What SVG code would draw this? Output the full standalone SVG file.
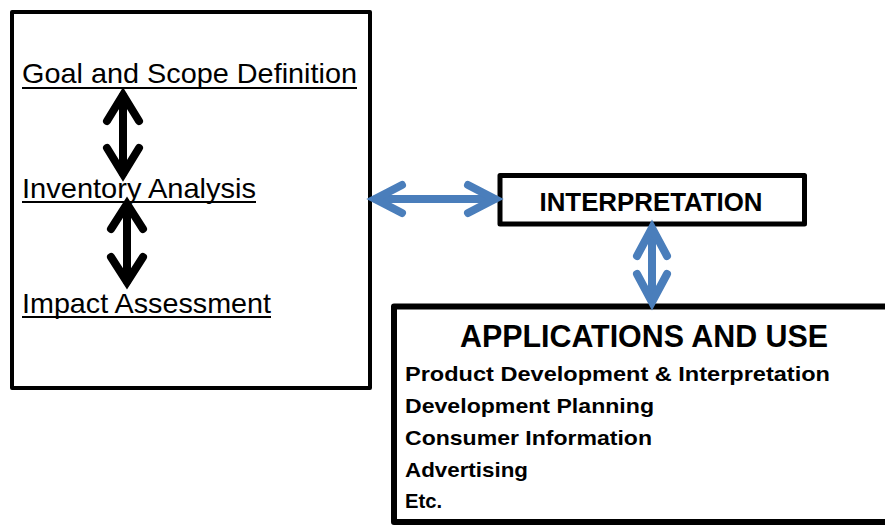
<svg xmlns="http://www.w3.org/2000/svg" width="885" height="525" viewBox="0 0 885 525">
<style>
.box{fill:#fff;stroke:#000;stroke-linejoin:round}
.lbl{font-family:"Liberation Sans",Arial,sans-serif;font-size:28px;fill:#000}
.b{font-family:"Liberation Sans",Arial,sans-serif;font-weight:bold;fill:#000}
.ul{stroke:#000;stroke-width:2}
.ka{fill:none;stroke:#000;stroke-width:8;stroke-linecap:round;stroke-linejoin:miter}
.ba{fill:none;stroke:#4a7ebb;stroke-width:8;stroke-linecap:round;stroke-linejoin:miter}
</style>
<rect width="885" height="525" fill="#fff"/>
<g id="lca-box">
<rect class="box" x="12" y="12" width="358" height="376" stroke-width="4"/>
</g>
<g id="goal">
<text class="lbl" x="22" y="83" textLength="335" lengthAdjust="spacingAndGlyphs">Goal and Scope Definition</text>
<line class="ul" x1="22" y1="88" x2="357" y2="88"/>
</g>
<g id="inventory">
<text class="lbl" x="22" y="198" textLength="234" lengthAdjust="spacingAndGlyphs">Inventory Analysis</text>
<line class="ul" x1="22" y1="202" x2="256" y2="202"/>
</g>
<g id="impact">
<text class="lbl" x="22" y="313" textLength="249" lengthAdjust="spacingAndGlyphs">Impact Assessment</text>
<line class="ul" x1="22" y1="317" x2="271" y2="317"/>
</g>
<g id="interpretation">
<rect class="box" x="500" y="175.5" width="304.5" height="48.5" stroke-width="5"/>
<text class="b" x="651" y="211" font-size="26" text-anchor="middle" textLength="223" lengthAdjust="spacingAndGlyphs">INTERPRETATION</text>
</g>
<g id="applications">
<rect class="box" x="394" y="306.5" width="500" height="215.5" stroke-width="6"/>
<text class="b" x="644" y="347" font-size="31" text-anchor="middle" textLength="368" lengthAdjust="spacingAndGlyphs">APPLICATIONS AND USE</text>
<text class="b" x="405" y="381" font-size="21" textLength="425" lengthAdjust="spacingAndGlyphs">Product Development &amp; Interpretation</text>
<text class="b" x="405" y="413" font-size="21" textLength="249" lengthAdjust="spacingAndGlyphs">Development Planning</text>
<text class="b" x="405" y="445" font-size="21" textLength="247" lengthAdjust="spacingAndGlyphs">Consumer Information</text>
<text class="b" x="405" y="477" font-size="21" textLength="123" lengthAdjust="spacingAndGlyphs">Advertising</text>
<text class="b" x="405" y="508" font-size="21" textLength="37" lengthAdjust="spacingAndGlyphs">Etc.</text>
</g>
<g id="connectors">
<line class="ka" x1="123" y1="96" x2="123" y2="173"/>
<polyline class="ka" points="107,121 123,95 139,121"/>
<polyline class="ka" points="107,148 123,174 139,148"/>
<line class="ka" x1="127" y1="207" x2="127" y2="281"/>
<polyline class="ka" points="111,229 127,204 143,229"/>
<polyline class="ka" points="111,257 127,282 143,257"/>
<line class="ba" x1="376" y1="199" x2="494" y2="199"/>
<polyline class="ba" points="402,185 375,199 402,213"/>
<polyline class="ba" points="468,185 495,199 468,213"/>
<line class="ba" x1="652" y1="229" x2="652" y2="300"/>
<polyline class="ba" points="637,256 652,228 667,256"/>
<polyline class="ba" points="637,274 652,302 667,274"/>
</g>
</svg>
